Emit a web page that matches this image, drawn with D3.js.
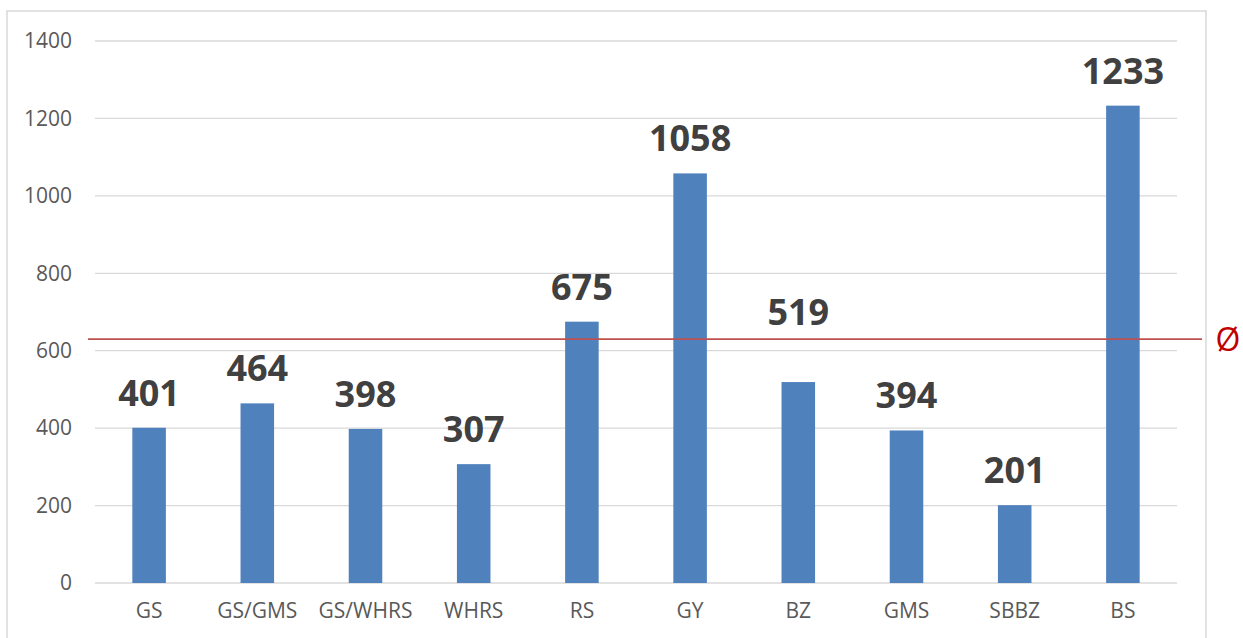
<!DOCTYPE html>
<html><head><meta charset="utf-8">
<script src="https://cdn.jsdelivr.net/npm/d3@7"></script>
<style>html,body{margin:0;padding:0;background:#fff;}svg{display:block;}</style>
</head><body>
<svg id="chart" width="1243" height="638"></svg>
<script>
const categories = ["GS","GS/GMS","GS/WHRS","WHRS","RS","GY","BZ","GMS","SBBZ","BS"];
const values = [401,464,398,307,675,1058,519,394,201,1233];
const yTicks = [0,200,400,600,800,1000,1200,1400];
const averageValue = 630;
const averageSymbol = "Ø";

(function(){
const svg = d3.select("#chart");
const W = 1243, H = 638;
const mLeft = 95, mRight = 1177, mTop = 41, mBottom = 583;

// outer chart border
svg.append("rect").attr("x",7).attr("y",11).attr("width",1199).attr("height",H)
  .attr("fill","none").attr("stroke","#d9d9d9").attr("stroke-width",1.5);

const x = d3.scaleBand().domain(categories).range([mLeft,mRight]).paddingInner(0.69).paddingOuter(0.345);
const y = d3.scaleLinear().domain([0,1400]).range([mBottom,mTop]);

// gridlines
svg.append("g").selectAll("line").data(yTicks).join("line")
  .attr("x1",mLeft).attr("x2",mRight).attr("y1",d=>y(d)).attr("y2",d=>y(d))
  .attr("stroke","#d9d9d9").attr("stroke-width",1.3);

// y axis labels
const yAxis = d3.axisLeft(y).tickValues(yTicks).tickSize(0).tickPadding(0).tickFormat(d3.format("d"));
const gy = svg.append("g").attr("transform",`translate(72,0)`).call(yAxis);
gy.select(".domain").remove();
gy.selectAll("text").attr("font-family","'Open Sans', sans-serif").attr("font-size",21).attr("fill","#595959");

// x axis labels
const xAxis = d3.axisBottom(x).tickSize(0).tickPadding(0);
const gx = svg.append("g").attr("transform",`translate(0,${mBottom+20})`).call(xAxis);
gx.select(".domain").remove();
gx.selectAll("text").attr("font-family","'Open Sans', sans-serif").attr("font-size",21).attr("fill","#595959");

// bars
const data = categories.map((c,i)=>({c, v: values[i]}));
svg.append("g").selectAll("rect").data(data).join("rect")
  .attr("x",d=>x(d.c)).attr("width",x.bandwidth())
  .attr("y",d=>y(d.v)).attr("height",d=>mBottom - y(d.v))
  .attr("fill","#4f81bd");

// average line
const avgY = y(averageValue);
svg.append("line").attr("x1",88).attr("x2",1202).attr("y1",avgY).attr("y2",avgY)
  .attr("stroke","#c0504d").attr("stroke-width",1.6);
svg.append("text").attr("x",1228).attr("y",avgY+12).attr("text-anchor","middle")
  .attr("font-family","'Open Sans', sans-serif").attr("font-size",32).attr("fill","#c00000")
  .text(averageSymbol);

// value labels
const fs = 36, cap = fs*0.714;
svg.append("g").selectAll("text").data(data).join("text")
  .attr("x",d=>x(d.c)+x.bandwidth()/2)
  .attr("y",d=>{
    let b = y(d.v) - 22;
    if (b > avgY && b - cap - 4 < avgY) b = avgY - 14;
    return b;
  })
  .attr("text-anchor","middle")
  .attr("font-family","'Open Sans', sans-serif").attr("font-weight",700)
  .attr("font-size",fs).attr("fill","#404040")
  .text(d=>d.v);
})();
</script>
</body></html>
